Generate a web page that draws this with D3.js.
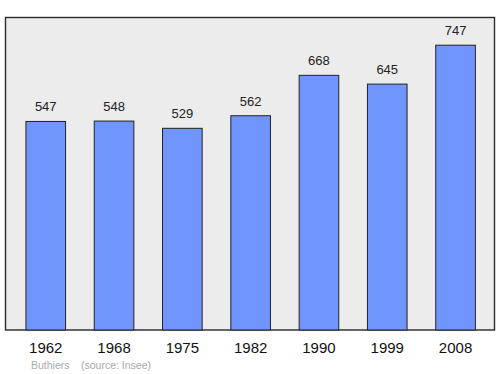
<!DOCTYPE html>
<html>
<head>
<meta charset="utf-8">
<script src="https://cdn.jsdelivr.net/npm/d3@7"></script>
<style>
  body { margin: 0; background: #fff; }
  text { font-family: "Liberation Sans", Arial, sans-serif; }
</style>
</head>
<body>
<div id="chart"></div>
<script>
// population of Buthiers by census year
const years = ["1962", "1968", "1975", "1982", "1990", "1999", "2008"];
const population = [547, 548, 529, 562, 668, 645, 747];
const placeName = "Buthiers";
const sourceNote = "(source: Insee)";

const W = 500, H = 374;
const frame = { left: 5.5, top: 17.5, right: 494.5, bottom: 330 };

const svg = d3.select("#chart").append("svg")
  .attr("width", W)
  .attr("height", H);

// grey plot background
svg.append("rect")
  .attr("x", frame.left)
  .attr("y", frame.top)
  .attr("width", frame.right - frame.left)
  .attr("height", frame.bottom - frame.top)
  .attr("fill", "#ececec")
  .attr("stroke", "#2a2a2a")
  .attr("stroke-width", 1.4);

const x = d3.scaleBand()
  .domain(years)
  .range([11.6, 489.7])
  .paddingInner(0.42)
  .paddingOuter(0.21);

const y = d3.scaleLinear()
  .domain([0, 800])
  .range([frame.bottom, 25]);

const data = years.map((yr, i) => ({ year: yr, value: population[i] }));

svg.selectAll("rect.bar")
  .data(data)
  .join("rect")
    .attr("class", "bar")
    .attr("x", d => x(d.year))
    .attr("y", d => y(d.value))
    .attr("width", x.bandwidth())
    .attr("height", d => frame.bottom - y(d.value))
    .attr("fill", "#7096fd")
    .attr("stroke", "#222")
    .attr("stroke-width", 1);

// value labels above bars
svg.selectAll("text.val")
  .data(data)
  .join("text")
    .attr("class", "val")
    .attr("x", d => x(d.year) + x.bandwidth() / 2)
    .attr("y", d => y(d.value) - 10)
    .attr("text-anchor", "middle")
    .attr("font-size", 13)
    .attr("fill", "#222")
    .text(d => d.value);

// year labels
svg.selectAll("text.yr")
  .data(data)
  .join("text")
    .attr("class", "yr")
    .attr("x", d => x(d.year) + x.bandwidth() / 2)
    .attr("y", 353)
    .attr("text-anchor", "middle")
    .attr("font-size", 15)
    .attr("fill", "#111")
    .text(d => d.year);

svg.append("text")
  .attr("x", 31)
  .attr("y", 369)
  .attr("font-size", 10.5)
  .attr("fill", "#aaa")
  .text(placeName);

svg.append("text")
  .attr("x", 81)
  .attr("y", 369)
  .attr("font-size", 10.5)
  .attr("fill", "#aaa")
  .text(sourceNote);
</script>
</body>
</html>
